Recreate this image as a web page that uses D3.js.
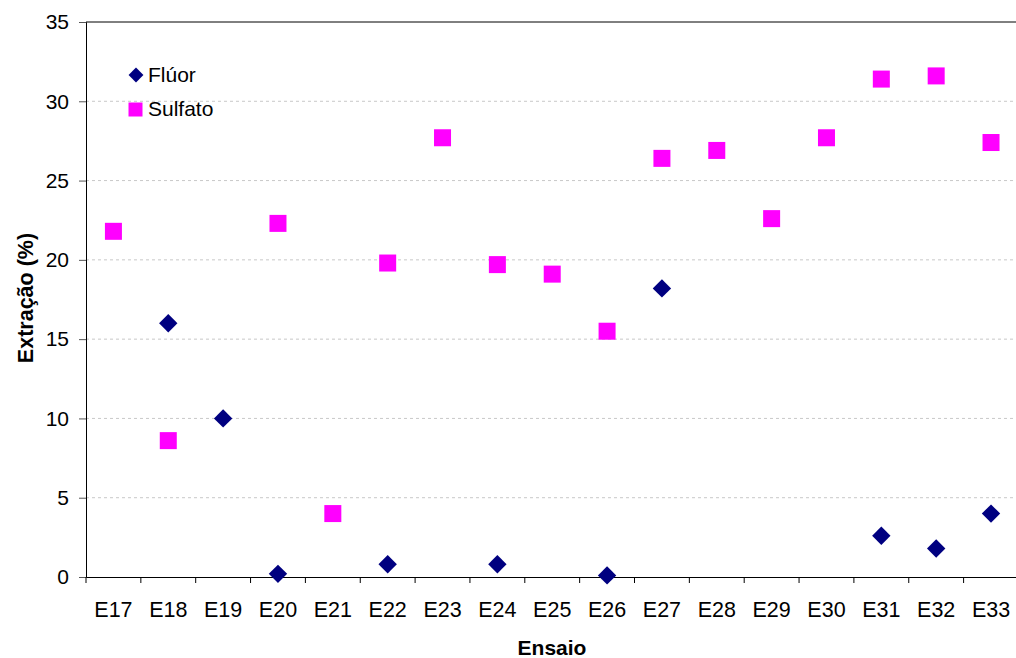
<!DOCTYPE html>
<html>
<head>
<meta charset="utf-8">
<script src="https://cdn.jsdelivr.net/npm/d3@7"></script>
<style>
  html, body { margin: 0; padding: 0; background: #fff; }
  svg { display: block; font-family: "Liberation Sans", Arial, sans-serif; }
</style>
</head>
<body>
<svg id="chart" width="1016" height="658"></svg>
<script>
const categories = ["E17","E18","E19","E20","E21","E22","E23","E24","E25","E26","E27","E28","E29","E30","E31","E32","E33"];
const fluorValues = [null, 16.0, 10.0, 0.2, null, 0.8, null, 0.8, null, 0.1, 18.2, null, null, null, 2.6, 1.8, 4.0];
const sulfatoValues = [21.8, 8.6, null, 22.3, 4.0, 19.8, 27.7, 19.7, 19.1, 15.5, 26.4, 26.9, 22.6, 27.7, 31.4, 31.6, 27.4];
const yTicks = [0, 5, 10, 15, 20, 25, 30, 35];
const seriesNames = ["Flúor", "Sulfato"];

const svg = d3.select("#chart");
const mLeft = 86, mTop = 22, mBottom = 577, mRight = 86 + 17 * 54.85;
const FONT = "'Liberation Sans', Arial, sans-serif";

const x = d3.scaleBand().domain(categories).range([mLeft, mRight]);
const y = d3.scaleLinear().domain([0, 35]).range([mBottom, mTop]);

// gridlines
svg.append("g").selectAll("line")
  .data(yTicks.filter(t => t > 0 && t < 35))
  .join("line")
  .attr("x1", mLeft).attr("x2", mRight)
  .attr("y1", d => y(d)).attr("y2", d => y(d))
  .attr("stroke", "#c8c8c8").attr("stroke-width", 1)
  .attr("stroke-dasharray", "3,3");

// top border
svg.append("line").attr("x1", mLeft).attr("x2", mRight).attr("y1", y(35)).attr("y2", y(35))
  .attr("stroke", "#000").attr("stroke-width", 1);

// y axis
const yAxis = d3.axisLeft(y).tickValues(yTicks).tickSize(7).tickPadding(10).tickFormat(d3.format("d"));
const gy = svg.append("g").attr("transform", `translate(${mLeft},0)`).call(yAxis);
gy.select(".domain").attr("stroke", "#000");
gy.selectAll(".tick line").attr("stroke", "#555");
gy.selectAll(".tick text").attr("font-size", 21).attr("fill", "#000").attr("font-family", FONT);

// x axis
const xAxis = d3.axisBottom(x).tickSize(0).tickPadding(25);
const gx = svg.append("g").attr("transform", `translate(0,${mBottom})`).call(xAxis);
gx.select(".domain").attr("stroke", "#000");
gx.selectAll(".tick text").attr("font-size", 21.5).attr("fill", "#000").attr("font-family", FONT);
// category separator ticks
svg.append("g").selectAll("line")
  .data(categories)
  .join("line")
  .attr("x1", d => x(d)).attr("x2", d => x(d))
  .attr("y1", mBottom).attr("y2", mBottom + 6)
  .attr("stroke", "#000");

// axis titles
svg.append("text").attr("x", 552).attr("y", 655)
  .attr("text-anchor", "middle").attr("font-weight", "bold").attr("font-size", 21)
  .text("Ensaio");
svg.append("text").attr("transform", "translate(33,298) rotate(-90)")
  .attr("text-anchor", "middle").attr("font-weight", "bold").attr("font-size", 21.5)
  .text("Extração (%)");

// markers
const cx = c => x(c) + x.bandwidth() / 2;
const sqSize = 17;
svg.append("g").selectAll("rect")
  .data(categories.map((c, i) => ({c, v: sulfatoValues[i]})).filter(d => d.v !== null))
  .join("rect")
  .attr("x", d => cx(d.c) - sqSize / 2).attr("y", d => y(d.v) - sqSize / 2)
  .attr("width", sqSize).attr("height", sqSize)
  .attr("fill", "#ff00ff");

const diamond = d3.symbol().type(d3.symbolSquare).size(13 * 13);
svg.append("g").selectAll("path")
  .data(categories.map((c, i) => ({c, v: fluorValues[i]})).filter(d => d.v !== null))
  .join("path")
  .attr("d", diamond)
  .attr("transform", d => `translate(${cx(d.c)},${y(d.v)}) rotate(45)`)
  .attr("fill", "#000080");

// legend
const lg = svg.append("g");
lg.append("path").attr("d", d3.symbol().type(d3.symbolSquare).size(10.5 * 10.5))
  .attr("transform", "translate(136,75) rotate(45)").attr("fill", "#000080");
lg.append("rect").attr("x", 128.5).attr("y", 102.5).attr("width", 14).attr("height", 14).attr("fill", "#ff00ff");
lg.append("text").attr("x", 148).attr("y", 75).attr("dy", "0.35em").attr("font-size", 21).text(seriesNames[0]);
lg.append("text").attr("x", 148).attr("y", 109).attr("dy", "0.35em").attr("font-size", 21).text(seriesNames[1]);
</script>
</body>
</html>
